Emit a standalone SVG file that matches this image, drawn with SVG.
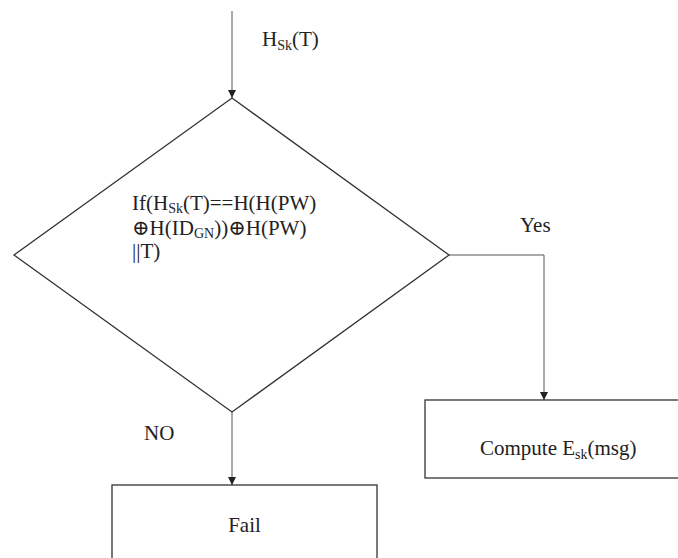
<svg xmlns="http://www.w3.org/2000/svg" width="678" height="558" viewBox="0 0 678 558">
<style>
text{font-family:"Liberation Serif","DejaVu Serif",serif;font-size:21px;fill:#222}
.sub{font-size:14px}
.shape{fill:#fff;stroke:#333;stroke-width:1.3}
.conn{fill:none;stroke:#555;stroke-width:1}
</style>
<defs>
<marker id="arr" viewBox="0 0 10 10" refX="10" refY="5" markerWidth="8" markerHeight="8" markerUnits="userSpaceOnUse" orient="auto">
<path d="M0,0 L10,5 L0,10 z" fill="#222"/>
</marker>
</defs>
<rect width="678" height="558" fill="#fff"/>
<g id="connectors">
<line class="conn" x1="232" y1="11" x2="232" y2="98" marker-end="url(#arr)"/>
<polyline class="conn" points="449,255 544,255 544,400" marker-end="url(#arr)"/>
<line class="conn" x1="232" y1="412" x2="232" y2="485" marker-end="url(#arr)"/>
</g>
<g id="label-hsk">
<text x="262" y="46">H<tspan class="sub" dy="4">Sk</tspan><tspan dy="-4">(T)</tspan></text>
</g>
<g id="decision">
<polygon class="shape" points="232,98 449,255 232,412 14,255"/>
<text x="132" y="210">If(H<tspan class="sub" dy="3">Sk</tspan><tspan dy="-3">(T)==H(H(PW)</tspan></text>
<text x="132" y="235">⊕H(ID<tspan class="sub" dy="3">GN</tspan><tspan dy="-3">))⊕H(PW)</tspan></text>
<text x="132" y="258">||T)</text>
</g>
<g id="label-yes"><text x="520" y="232">Yes</text></g>
<g id="label-no"><text x="144" y="440">NO</text></g>
<g id="compute">
<rect class="shape" x="425" y="400" width="270" height="78"/>
<text x="480" y="455">Compute E<tspan class="sub" dy="4">sk</tspan><tspan dy="-4">(msg)</tspan></text>
</g>
<g id="fail">
<rect class="shape" x="112" y="485" width="265" height="90"/>
<text x="244.5" y="532" text-anchor="middle">Fail</text>
</g>
</svg>
